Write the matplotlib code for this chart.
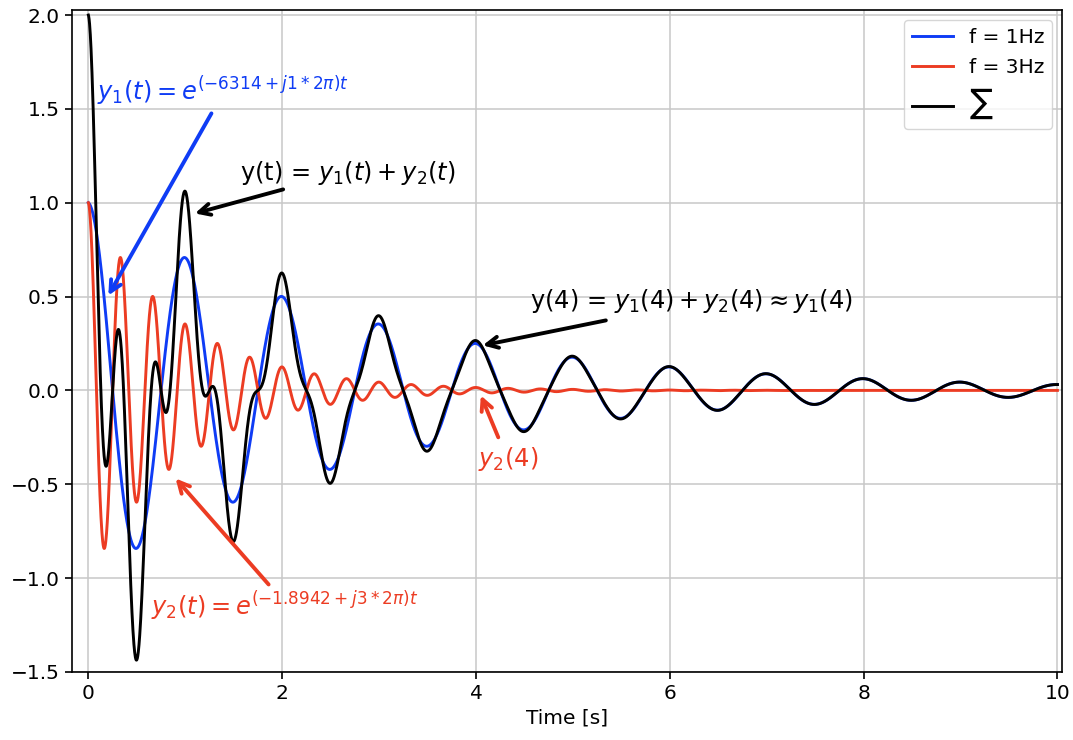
import numpy as np
import matplotlib
matplotlib.use("Agg")
import matplotlib.pyplot as plt

# parameters (decay rate, frequency, amplitude)
freqs = [1.0, 3.0]
decay = [0.3466, 1.0397]
amps = [1.0, 1.0]
labels = ["f = 1Hz", "f = 3Hz", r"$\sum$"]
colors = ["#0f3cf5", "#ec3c23", "black"]

t = np.linspace(0, 10, 4001)
y1 = amps[0] * np.exp(-decay[0] * t) * np.cos(2 * np.pi * freqs[0] * t)
y2 = amps[1] * np.exp(-decay[1] * t) * np.cos(2 * np.pi * freqs[1] * t)
y = y1 + y2

plt.rcParams['font.size'] = 14.5
fig, ax = plt.subplots(figsize=(10.73, 7.4), dpi=100)
fig.subplots_adjust(left=0.067, right=0.99, top=0.986, bottom=0.092)

ax.plot(t, y1, color=colors[0], lw=2.1, label=labels[0])
ax.plot(t, y2, color=colors[1], lw=2.1, label=labels[1])
ax.plot(t, y, color=colors[2], lw=2.1, label=labels[2])

ax.set_xlim(-0.17, 10.05)
ax.set_ylim(-1.5, 2.025)
ax.grid(True, color="#c8c8c8", lw=1.1)
ax.set_xlabel("Time [s]", fontsize=14.5, labelpad=4)
ax.tick_params(labelsize=14.5, width=1.2, length=5)
for s in ax.spines.values():
    s.set_linewidth(1.2)

leg = ax.legend(loc="upper right", fontsize=14.5)
leg.get_texts()[2].set_fontsize(17.5)

fs = 17.4
# annotation texts
ax.text(0.09, 1.545, r"$y_1(t) = e^{(-6314 + j1*2\pi)t}$", color=colors[0], fontsize=fs)
ax.text(1.56, 1.119, r"y(t) = $y_1(t) + y_2(t)$", color="black", fontsize=fs)
ax.text(4.56, 0.437, r"y(4) = $y_1(4) + y_2(4) \approx y_1(4)$", color="black", fontsize=fs)
ax.text(4.02, -0.405, r"$y_2(4)$", color=colors[1], fontsize=fs)
ax.text(0.65, -1.199, r"$y_2(t) = e^{(-1.8942 + j3*2\pi)t}$", color=colors[1], fontsize=fs)

# arrows: (head, tail, colour)
arrows = [((0.206, 0.506), (1.27, 1.476), colors[0]),
          ((1.10, 0.943), (2.01, 1.071), "black"),
          ((4.07, 0.240), (5.34, 0.373), "black"),
          ((4.05, -0.027), (4.23, -0.25), colors[1]),
          ((0.90, -0.469), (1.86, -1.034), colors[1])]
for head, tail, c in arrows:
    ax.annotate("", xy=head, xytext=tail,
                arrowprops=dict(arrowstyle="->", color=c, lw=2.8,
                                mutation_scale=20, shrinkA=0, shrinkB=0))

fig.savefig("out.png", dpi=100)
